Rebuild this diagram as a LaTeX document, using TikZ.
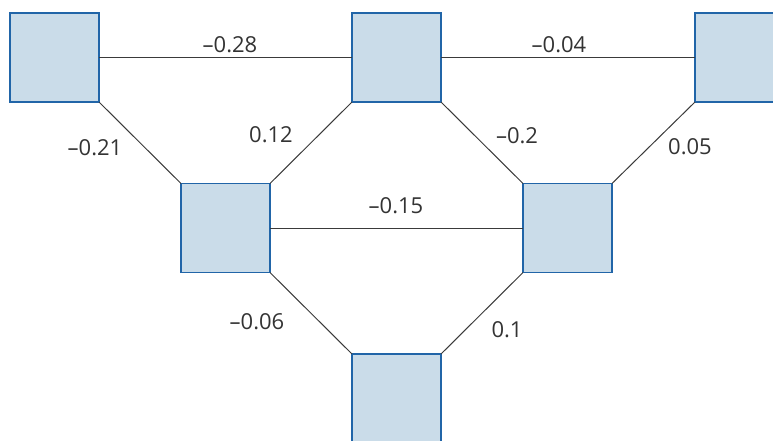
\documentclass[tikz,border=0pt]{standalone}
\usepackage{fontspec}
\setmainfont{Open Sans}
\definecolor{boxfill}{HTML}{CADCE9}
\definecolor{boxline}{HTML}{2165A8}
\definecolor{edgecol}{HTML}{3A3A3A}
\definecolor{txtcol}{HTML}{333333}
\begin{document}
\begin{tikzpicture}[x=0.75pt,y=-0.75pt,
  unit/.style={draw=boxline,fill=boxfill,line width=1.1pt,minimum size=66.75pt,inner sep=0pt,outer sep=0pt},
  link/.style={draw=edgecol,line width=0.75pt},
  wlabel/.style={text=txtcol,font=\fontsize{16.5}{19}\selectfont,inner sep=0pt}]
\useasboundingbox (0,0) rectangle (773,440);
\clip (0,0) rectangle (773,440);
\node[unit] (tl) at (54.5,57.5) {};
\node[unit] (tm) at (396.5,57.5) {};
\node[unit] (tr) at (739.5,57.5) {};
\node[unit] (ml) at (225.5,228) {};
\node[unit] (mr) at (567.5,228) {};
\node[unit] (bm) at (396.5,398.5) {};
\draw[link] (tl.east) -- (tm.west);
\draw[link] (tm.east) -- (tr.west);
\draw[link] (ml.east) -- (mr.west);
\draw[link] (tl.south east) -- (ml.north west);
\draw[link] (tm.south west) -- (ml.north east);
\draw[link] (tm.south east) -- (mr.north west);
\draw[link] (tr.south west) -- (mr.north east);
\draw[link] (ml.south east) -- (bm.north west);
\draw[link] (mr.south west) -- (bm.north east);
\node[wlabel] (l1) at (230,44.5) {–0.28};
\node[wlabel] (l2) at (559,44.5) {–0.04};
\node[wlabel] (l3) at (95,148) {–0.21};
\node[wlabel] (l4) at (271,135) {0.12};
\node[wlabel] (l5) at (517,136) {–0.2};
\node[wlabel] (l6) at (690,147) {0.05};
\node[wlabel] (l7) at (396,206) {–0.15};
\node[wlabel] (l8) at (257,322) {–0.06};
\node[wlabel] (l9) at (507,330) {0.1};
\end{tikzpicture}
\end{document}
